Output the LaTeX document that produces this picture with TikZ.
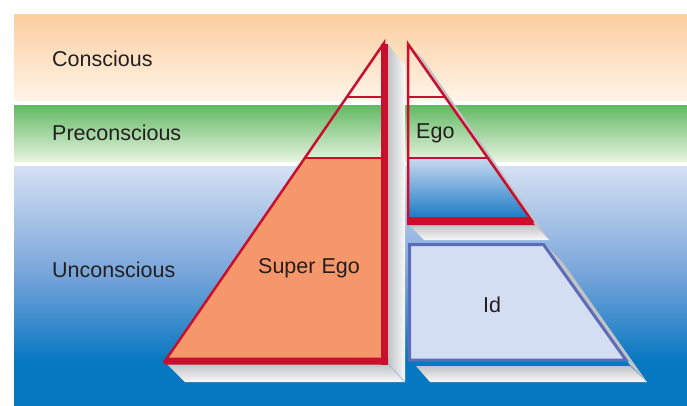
\documentclass[tikz,border=0pt]{standalone}
\usepackage{fontspec}
\setmainfont{Liberation Sans}
\definecolor{orgT}{HTML}{FBCE9E}
\definecolor{orgB}{HTML}{FFF4E8}
\definecolor{grnT}{HTML}{62B963}
\definecolor{grnB}{HTML}{E6F3E0}
\definecolor{blueL}{HTML}{D5E0F3}
\definecolor{blueM}{HTML}{7AA6DA}
\definecolor{blueD}{HTML}{0677C1}
\definecolor{salmon}{HTML}{F6966B}
\definecolor{redc}{HTML}{C8102E}
\definecolor{idfill}{HTML}{D3DEF2}
\definecolor{idline}{HTML}{5D6CB9}
\definecolor{egoT}{HTML}{C9D9F0}
\definecolor{egoB}{HTML}{1277C4}
\definecolor{txt}{HTML}{231F20}
\definecolor{slabG}{HTML}{C2C3C7}
\definecolor{slabW}{HTML}{F8F8F8}
\definecolor{edgeb}{HTML}{8FC0E0}
\pgfdeclareverticalshading{bluebg}{100bp}{color(0bp)=(blueD); color(34bp)=(blueD); color(53bp)=(blueM); color(75bp)=(blueL); color(100bp)=(blueL)}
\tikzset{
  lbl/.style={font=\fontsize{21.5}{26}\selectfont, text=txt, inner sep=0pt},
  thinred/.style={draw=redc, line width=2.5pt},
  slabside/.style={left color=slabG, right color=slabW},
  slabbot/.style={top color=slabG, bottom color=slabW},
  edgeline/.style={draw=edgeb, line width=0.6pt}
}
\begin{document}
\begin{tikzpicture}[x=1pt,y=-1pt]
\useasboundingbox (0,0) rectangle (687,405);
\fill[white] (0,0) rectangle (687,405);
% background bands
\shade[top color=orgT, bottom color=orgB] (14,14) rectangle (687,100);
\shade[top color=grnT, bottom color=grnB] (14,105) rectangle (687,161);
\shade[shading=bluebg] (14,166) rectangle (687,405);
% extrusions (slabs)
\shade[slabside] (388,44) -- (405,66) -- (405,382) -- (388,364) -- cycle;
\shade[slabbot] (167,364) -- (388,364) -- (405,382) -- (185,382) -- cycle;
\draw[edgeline] (388,364) -- (405,382);
\fill[slabG] (408,44) -- (535,225) -- (549,240) -- (423,59) -- cycle;
\shade[slabbot] (409,225) -- (535,225) -- (549,240) -- (424,240) -- cycle;
\fill[slabG] (544,243) -- (630,365) -- (647,382) -- (564,264) -- cycle;
\shade[slabbot] (416,366) -- (630,366) -- (647,382) -- (430,382) -- cycle;
% Super Ego
\fill[salmon] (304.8,158) -- (384,158) -- (384,361) -- (165,361) -- cycle;
\draw[thinred] (384,43) -- (165,361) -- (384,361) -- cycle;
\draw[thinred] (346.8,97) -- (384,97);
\draw[thinred] (304.8,158) -- (384,158);
\fill[redc] (381,44) rectangle (388,364.5);
\fill[redc] (167,357.5) -- (388,357.5) -- (388,364.5) -- (165,364.5) -- (163,361) -- cycle;
% Ego
\shade[top color=egoT, bottom color=egoB] (408,158) -- (487.9,158) -- (532,221) -- (408,221) -- cycle;
\draw[thinred] (408,44) -- (532,221) -- (408,221) -- cycle;
\draw[thinred] (408,97) -- (445.1,97);
\draw[thinred] (408,158) -- (487.9,158);
\fill[redc] (407,217) -- (529.2,217) -- (534.8,225) -- (407,225) -- cycle;
% Id
\draw[draw=idline, fill=idfill, line width=3pt] (409.5,244.5) -- (543.5,244.5) -- (626,360) -- (409.5,360) -- cycle;
% labels
\node[lbl, anchor=base west] (conscious) at (52,66.5) {Conscious};
\node[lbl, anchor=base west] (precon) at (52,140) {Preconscious};
\node[lbl, anchor=base west] (uncon) at (52,277) {Unconscious};
\node[lbl, anchor=base] (superego) at (309,273) {Super Ego};
\node[lbl, anchor=base west] (ego) at (416,138) {Ego};
\node[lbl, anchor=base west] (id) at (483,312) {Id};
\end{tikzpicture}
\end{document}
